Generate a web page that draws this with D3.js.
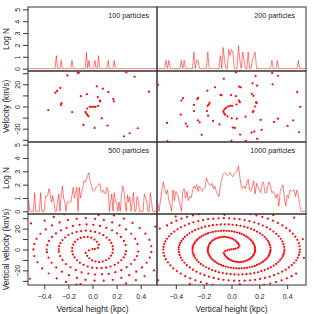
<!DOCTYPE html>
<html>
<head>
<meta charset="utf-8">
<script src="https://cdn.jsdelivr.net/npm/d3@7"></script>
<style>
  body { margin: 0; background: #fff; }
  text { font-family: "Liberation Sans", Arial, sans-serif; fill: #222; }
</style>
</head>
<body>
<div id="chart"></div>
<script>
// histogram bins: centres from -0.53 to 0.53 kpc, 0.01 wide
var binStart = -0.53, binWidth = 0.01, binCount = 107;

// log N per bin
var hist100 = [
  0,0,0,0,0,0,0,0,0,0,
  0,0,0,0,0,0,0,0,0,0,
  0,0,0,1.1,0,0,0,0.69,0,0,
  0,0,0,0,0,0,0.69,0,0,0,
  0,0,0,0,0,0,0,0,1.39,0,
  0.69,0,0,0,0,0.69,0,0,1.1,0,
  0,0,0,0,0,0,0.69,0,0,0,
  0,0.69,0,0,0,0,0,0,0,0,
  0,0,0,0,0,0,0,0,0,0,
  0,0,0,0,0,0,0,0,0,0,
  0,0,0,0,0,0,0
];
var hist200 = [
  0,0,0,0,0,0,0.69,0,0.69,0,
  0,0,0,0,0,0,0,0.69,0,0.69,
  0,0,0,0,0,0,1.39,0,0.69,0.69,
  0,0,0,0,0,0,1.39,0,0,0,
  0,0,0,0,0,1.1,0,1.79,0.69,0,
  0,1.61,1.1,1.61,1.39,0,0,0,1.95,0.69,
  0,1.39,0.69,0,0,1.39,0,0,0.69,1.1,
  1.39,0,0,0,0,0,0,0,0,0,
  0,0,0.69,0,0,0,0.69,0,0,0,
  0,0,0,0,0,0,0,0,0,0,
  0,0.69,0,0,0,0,0
];
var hist500 = [
  0.85,0,0,0,0,1.4,0,0,0,0,
  1.4,0,0,0,1.1,1.1,1.3,1.7,1.2,0.7,
  1.2,0.7,0,0,0.7,1.3,0,1.1,1.9,1.0,
  0.7,0,0.7,0.7,0.7,0.7,1.2,1.8,1.0,1.4,
  1.8,0,1.8,1.0,1.4,1.8,2.3,2.2,2.4,2.7,
  2.9,2.3,2.0,1.6,1.5,1.6,1.8,1.9,2.0,2.1,
  1.5,1.4,1.6,1.4,1.3,1.8,1.6,0,0.7,1.3,
  0,1.4,0.7,0.7,0,0.7,0,1.1,1.9,1.6,
  0.7,0,1.2,0.7,1.1,0,0.7,1.4,0,0,
  1.1,0.7,0,0,0,0,1.3,1.1,0.7,0,
  0,1.4,0.7,0,0,0,0
];
var hist1000 = [
  0.73,0,0.8,1.6,2.2,1.7,1.3,1.6,0.8,0.5,
  0,1.6,0.8,1.5,1.3,1.0,0.5,0,1.5,1.7,
  1.0,1.5,0.8,1.1,1.0,1.5,1.9,1.7,2.0,1.5,
  1.9,1.7,1.5,1.7,1.8,2.5,2.2,2.0,1.9,2.1,
  1.7,1.9,1.5,1.3,1.1,1.9,2.4,2.8,2.9,2.8,
  2.7,2.8,2.9,2.7,2.6,2.8,2.9,3.0,3.4,2.6,
  1.8,1.7,1.9,1.7,2.1,2.4,1.6,1.5,1.9,2.3,
  1.3,2.1,1.8,1.6,1.4,2.1,2.2,1.4,1.4,1.9,
  2.2,1.9,1.4,1.5,1.3,1.0,1.3,0.4,1.5,1.8,
  2.0,1.0,0.4,1.2,1.0,1.6,1.5,1.6,1.6,1.1,
  1.6,1.2,0.5,0,0,0,0
];

// particles: [vertical height (kpc), vertical velocity (km/s)]
var pts100 = [
  [-0.208,28.0],[-0.122,30.4],[-0.114,30.4],[0.281,30.7],[0.35,26.8],
  [0.036,18.2],[0.086,16.1],[0.131,13.1],[-0.267,16.7],[-0.294,14.0],
  [-0.308,12.5],[0.469,13.4],[-0.097,9.3],[-0.047,11.1],[0.044,8.4],
  [0.061,5.4],[0.064,4.5],[0.172,6.6],[0.177,4.5],[-0.258,3.0],
  [-0.261,1.25],[-0.367,-3.2],[-0.169,-5.0],[-0.022,-0.3],[-0.006,-0.3],
  [0.011,-0.3],[0.025,-0.3],[0.047,0.6],[-0.044,-1.8],[-0.058,-5.0],
  [-0.05,-6.5],[-0.042,-7.7],[-0.033,-8.9],[0.077,-10.7],[-0.075,-16.6],
  [0.017,-19.3],[0.125,-17.2],[0.375,-19.6],[0.308,-24.1],[0.261,-26.8]
];
var pts200 = [
  [0.031,30.7],[0.173,27.4],[0.292,30.1],[0.335,27.7],[-0.055,25.0],
  [-0.528,19.6],[-0.118,17.3],[-0.173,14.3],[0.055,17.9],[0.067,17.3],
  [0.151,20.9],[0.184,18.8],[0.295,20.0],[0.472,12.9],[-0.079,10.2],
  [-0.072,10.2],[-0.003,10.2],[0.031,9.3],[0.146,11.3],[0.158,9.6],
  [-0.240,7.8],[-0.245,6.6],[-0.348,7.5],[-0.360,5.4],[0.177,3.9],
  [0.180,3.0],[0.494,-0.3],[-0.269,1.5],[-0.158,3.3],[-0.163,1.8],
  [-0.171,0.6],[0.053,5.4],[0.060,3.9],[0.036,1.8],[0.004,0.6],
  [-0.010,0.6],[-0.024,0.0],[-0.039,-1.2],[-0.050,-2.3],[-0.058,-4.1],
  [-0.055,-5.9],[-0.046,-7.4],[-0.029,-8.9],[0.002,-10.7],[0.038,-11.0],
  [0.101,-9.2],[0.168,0.0],[0.158,-4.1],[0.153,-5.0],[-0.269,-4.1],
  [-0.176,-4.1],[-0.168,-8.3],[-0.132,-13.0],[-0.086,-16.1],[-0.240,-12.5],
  [-0.228,-14.3],[-0.365,-7.4],[-0.329,-15.4],[-0.317,-17.9],[-0.463,-14.8],
  [-0.214,-25.5],[0.009,-19.0],[0.024,-19.3],[0.062,-25.3],[0.144,-23.5],
  [0.163,-22.6],[0.184,-29.1],[0.216,-21.1],[0.209,-12.1],[0.306,-13.9],
  [0.333,-11.0],[0.403,-17.5],[0.443,-12.5],[0.484,-23.2],[-0.460,-31.3],
  [0.0,-30.9],[0.103,-30.9]
];
var pts500 = [
  // arm winding out from the centre to the left / down
  [0.0,0.3],[-0.03,-0.8],
  [-0.056,-3.2],[-0.045,-6.1],[-0.026,-8.4],[-0.003,-10.5],[0.025,-11.5],[0.055,-12.1],
  [0.085,-11.5],[0.113,-10.3],[0.136,-8.6],[0.155,-5.9],[0.166,-3.2],[0.170,0.1],
  [0.167,3.2],[0.156,6.3],[0.140,9.1],[0.117,11.5],[0.090,13.7],[0.058,15.5],
  [0.022,16.8],[-0.016,17.6],[-0.055,18.1],[-0.094,17.6],[-0.132,16.8],[-0.168,15.5],
  [-0.200,13.9],[-0.227,11.5],[-0.250,9.1],[-0.266,6.1],[-0.277,3.2],[-0.280,0.1],
  [-0.279,-2.2],[-0.269,-6.3],[-0.249,-10.0],[-0.220,-13.9],[-0.183,-17.1],[-0.139,-19.6],
  [-0.090,-21.9],[-0.035,-23.1],[0.021,-24.0],[0.079,-23.8],[0.135,-23.3],[0.190,-21.7],
  [0.239,-19.8],[0.283,-16.9],[0.320,-13.9],[0.349,-10.0],[0.369,-6.3],[0.379,-2.0],
  [0.373,5.3],[0.354,10.2],[0.322,15.1],[0.278,19.2],[0.225,23.1],[0.163,25.9],
  [0.094,28.3],[0.021,29.4],[-0.055,30.1],[-0.131,29.4],[-0.204,28.3],[-0.273,25.9],
  [-0.335,23.1],[-0.388,19.2],[-0.432,15.1],[-0.464,10.2],[-0.483,5.3],[-0.490,0.1],
  [-0.482,-6.3],[-0.457,-12.2],[-0.418,-18.1],[-0.364,-23.0],[-0.297,-27.7],[-0.220,-31.1],
  [-0.135,-33.7],[0.278,-32.5],[0.360,-29.4],[0.432,-25.6],
  // arm winding out from the centre to the right / up
  [0.02,0.5],[0.045,1.5],
  [0.052,4.6],[0.037,7.4],[0.016,9.5],[-0.010,11.2],[-0.040,12.0],[-0.070,11.9],
  [-0.098,11.1],[-0.124,9.6],[-0.145,7.3],[-0.160,4.7],[-0.168,1.5],
  [-0.169,-1.6],[-0.162,-4.7],[-0.149,-7.6],[-0.129,-10.3],[-0.104,-12.7],[-0.074,-14.7],
  [-0.040,-16.3],[-0.003,-17.4],[0.035,-17.9],[0.075,-17.9],[0.113,-17.4],[0.150,-16.3],
  [0.184,-14.7],[0.214,-12.7],[0.239,-10.3],[0.259,-7.6],[0.272,-4.7],[0.279,-1.6],
  [0.275,4.2],[0.260,8.2],[0.236,12.0],[0.203,15.4],[0.162,18.4],[0.115,20.8],
  [0.063,22.6],[0.007,23.6],[-0.050,24.0],[-0.107,23.6],[-0.163,22.6],[-0.215,20.8],
  [-0.262,18.4],[-0.303,15.4],[-0.336,12.0],[-0.360,8.2],[-0.375,4.2],[-0.380,0.0],
  [-0.378,-2.6],[-0.365,-7.8],[-0.339,-12.7],[-0.301,-17.2],[-0.253,-21.2],[-0.195,-24.6],
  [-0.129,-27.2],[-0.058,-29.0],[0.017,-29.9],[0.093,-29.9],[0.168,-29.0],[0.239,-27.2],
  [0.305,-24.6],[0.363,-21.2],[0.411,-17.2],[0.449,-12.7],[0.475,-7.8],[0.488,-2.6],
  [0.488,3.1],[0.472,9.3],[0.439,15.2],[0.392,20.6],[0.332,25.5],[0.260,29.5],
  [0.178,32.6],[-0.235,33.8],[-0.320,31.2],[-0.397,27.6],
  // stray particles
  [-0.52,-28.0],[0.51,-20.0],[-0.51,25.0],[0.05,33.0],[-0.10,-33.2],[0.52,22.0]
];
var pts1000 = [
  // arm winding out from the centre to the left / down
  [0.0,0.2],[-0.015,-0.2],[-0.03,-0.7],[-0.045,-1.5],
  [-0.056,-3.1],[-0.051,-4.6],[-0.045,-6.0],[-0.036,-7.3],[-0.026,-8.5],[-0.015,-9.5],
  [-0.003,-10.4],[0.011,-11.1],[0.025,-11.6],[0.040,-11.9],[0.055,-12.0],[0.070,-11.9],
  [0.085,-11.6],[0.099,-11.1],[0.113,-10.4],[0.125,-9.5],[0.136,-8.5],[0.146,-7.3],
  [0.155,-6.0],[0.161,-4.6],[0.166,-3.1],[0.169,-1.6],[0.170,0.0],
  [0.169,1.6],[0.167,3.1],[0.162,4.7],[0.156,6.2],[0.149,7.6],[0.140,9.0],
  [0.129,10.3],[0.117,11.6],[0.104,12.7],[0.090,13.8],[0.074,14.7],[0.058,15.6],
  [0.040,16.3],[0.022,16.9],[0.003,17.4],[-0.016,17.7],[-0.035,17.9],[-0.055,18.0],
  [-0.075,17.9],[-0.094,17.7],[-0.113,17.4],[-0.132,16.9],[-0.150,16.3],[-0.168,15.6],
  [-0.184,14.7],[-0.200,13.8],[-0.214,12.7],[-0.227,11.6],[-0.239,10.3],[-0.250,9.0],
  [-0.259,7.6],[-0.266,6.2],[-0.272,4.7],[-0.277,3.1],[-0.279,1.6],[-0.280,0.0],
  [-0.279,-2.1],[-0.275,-4.2],[-0.269,-6.2],[-0.260,-8.2],[-0.249,-10.1],[-0.236,-12.0],
  [-0.220,-13.8],[-0.203,-15.4],[-0.183,-17.0],[-0.162,-18.4],[-0.139,-19.7],[-0.115,-20.8],
  [-0.090,-21.8],[-0.063,-22.6],[-0.035,-23.2],[-0.007,-23.6],[0.021,-23.9],[0.050,-24.0],
  [0.079,-23.9],[0.107,-23.6],[0.135,-23.2],[0.163,-22.6],[0.190,-21.8],[0.215,-20.8],
  [0.239,-19.7],[0.262,-18.4],[0.283,-17.0],[0.303,-15.4],[0.320,-13.8],[0.336,-12.0],
  [0.349,-10.1],[0.360,-8.2],[0.369,-6.2],[0.375,-4.2],[0.379,-2.1],[0.380,0.0],
  [0.378,2.6],[0.373,5.2],[0.365,7.8],[0.354,10.3],[0.339,12.7],[0.322,15.0],
  [0.301,17.2],[0.278,19.3],[0.253,21.2],[0.225,23.0],[0.195,24.6],[0.163,26.0],
  [0.129,27.2],[0.094,28.2],[0.058,29.0],[0.021,29.5],[-0.017,29.9],[-0.055,30.0],
  [-0.093,29.9],[-0.131,29.5],[-0.168,29.0],[-0.204,28.2],[-0.239,27.2],[-0.273,26.0],
  [-0.305,24.6],[-0.335,23.0],[-0.363,21.2],[-0.388,19.3],[-0.411,17.2],[-0.432,15.0],
  [-0.449,12.7],[-0.464,10.3],[-0.475,7.8],[-0.483,5.2],[-0.488,2.6],[-0.490,0.0],
  [-0.488,-3.1],[-0.482,-6.2],[-0.472,-9.3],[-0.457,-12.3],[-0.439,-15.2],[-0.418,-18.0],
  [-0.392,-20.6],[-0.364,-23.1],[-0.332,-25.5],[-0.297,-27.6],[-0.260,-29.5],[-0.220,-31.2],
  [-0.178,-32.6],[-0.135,-33.8],[0.235,-33.8],[0.278,-32.6],[0.320,-31.2],[0.360,-29.5],
  [0.397,-27.6],[0.432,-25.5],[0.464,-23.1],
  // arm winding out from the centre to the right / up
  [0.015,0.3],[0.03,0.8],[0.046,1.6],
  [0.057,3.0],[0.052,4.7],[0.046,6.1],[0.037,7.4],[0.027,8.6],[0.016,9.6],
  [0.004,10.5],[-0.010,11.2],[-0.024,11.7],[-0.040,12.0],[-0.055,12.1],[-0.070,12.0],
  [-0.084,11.7],[-0.098,11.2],[-0.112,10.5],[-0.124,9.6],[-0.136,8.6],[-0.145,7.4],
  [-0.154,6.1],[-0.160,4.7],[-0.165,3.1],[-0.168,1.6],[-0.170,0.1],
  [-0.170,-1.5],[-0.168,-3.0],[-0.163,-4.6],[-0.157,-6.1],[-0.150,-7.6],[-0.141,-9.1],
  [-0.130,-10.4],[-0.118,-11.7],[-0.105,-12.8],[-0.091,-13.9],[-0.075,-14.8],[-0.059,-15.7],
  [-0.041,-16.4],[-0.023,-17.0],[-0.004,-17.5],[0.015,-17.8],[0.034,-18.0],[0.054,-18.1],
  [0.074,-18.0],[0.093,-17.8],[0.112,-17.5],[0.131,-17.0],[0.149,-16.4],[0.167,-15.7],
  [0.183,-14.8],[0.199,-13.9],[0.213,-12.8],[0.226,-11.7],[0.238,-10.4],[0.249,-9.1],
  [0.258,-7.7],[0.266,-6.2],[0.272,-4.7],[0.276,-3.1],[0.279,-1.6],[0.281,0.0],
  [0.280,2.1],[0.276,4.2],[0.270,6.3],[0.261,8.3],[0.250,10.2],[0.237,12.1],
  [0.221,13.9],[0.204,15.5],[0.184,17.1],[0.163,18.5],[0.140,19.8],[0.116,20.9],
  [0.091,21.9],[0.064,22.7],[0.036,23.3],[0.008,23.7],[-0.020,24.0],[-0.049,24.1],
  [-0.078,24.0],[-0.106,23.7],[-0.134,23.3],[-0.162,22.7],[-0.189,21.9],[-0.214,20.9],
  [-0.238,19.8],[-0.261,18.5],[-0.282,17.1],[-0.302,15.5],[-0.319,13.9],[-0.335,12.1],
  [-0.348,10.2],[-0.359,8.3],[-0.368,6.3],[-0.374,4.2],[-0.378,2.1],[-0.379,0.0],
  [-0.377,-2.6],[-0.372,-5.2],[-0.364,-7.8],[-0.353,-10.3],[-0.338,-12.7],[-0.321,-15.0],
  [-0.300,-17.2],[-0.277,-19.3],[-0.252,-21.2],[-0.224,-23.0],[-0.194,-24.6],[-0.162,-26.0],
  [-0.128,-27.2],[-0.093,-28.2],[-0.057,-29.0],[-0.020,-29.5],[0.018,-29.9],[0.056,-30.0],
  [0.094,-29.9],[0.132,-29.5],[0.169,-29.0],[0.205,-28.2],[0.240,-27.2],[0.274,-26.0],
  [0.306,-24.6],[0.336,-23.0],[0.364,-21.2],[0.389,-19.3],[0.412,-17.2],[0.433,-15.0],
  [0.450,-12.7],[0.465,-10.3],[0.476,-7.8],[0.484,-5.2],[0.489,-2.6],[0.491,0.0],
  [0.489,3.1],[0.483,6.2],[0.473,9.3],[0.458,12.3],[0.440,15.2],[0.419,18.0],
  [0.393,20.6],[0.365,23.1],[0.333,25.5],[0.298,27.6],[0.261,29.5],[0.221,31.2],
  [0.179,32.6],[0.136,33.8],[-0.234,33.8],[-0.277,32.6],[-0.319,31.2],[-0.359,29.5],
  [-0.396,27.6],[-0.431,25.5],[-0.463,23.1],
  // stray particles
  [-0.528,-29.5],[-0.515,20.0],[0.512,10.0],[-0.40,31.5],[0.45,30.5],
  [0.06,-33.4],[-0.05,33.2],[0.30,33.0],[-0.30,-33.0],[0.52,-8.0]
];

var panelLabels = ["100 particles", "200 particles", "500 particles", "1000 particles"];
var logTicks = [0, 1, 2, 3, 4, 5];
var velTicks = [-30, -20, -10, 0, 10, 20, 30];
var velTickLabels = [-20, 0, 20];
var zTicks = [-0.4, -0.2, 0.0, 0.2, 0.4];

var binCenters = d3.range(binCount).map(function(i) { return binStart + binWidth * i; });

var svg = d3.select("#chart").append("svg")
    .attr("width", 314)
    .attr("height", 314);

// layout of the 2x2 grid (each cell = log N strip + phase space strip)
var colX   = [[28, 157], [157, 306]];
var rowLog = [[71, 7], [214, 142]];
var rowVel = [[142, 71], [285, 214]];
var velDomain = [[-32, 32], [-34, 34]];

var panels = [
  {hist: hist100,  pts: pts100,  col: 0, row: 0, label: panelLabels[0]},
  {hist: hist200,  pts: pts200,  col: 1, row: 0, label: panelLabels[1]},
  {hist: hist500,  pts: pts500,  col: 0, row: 1, label: panelLabels[2]},
  {hist: hist1000, pts: pts1000, col: 1, row: 1, label: panelLabels[3]}
];

panels.forEach(function(p, k) {
    var x = d3.scaleLinear().domain([-0.535, 0.535]).range(colX[p.col]);
    var yL = d3.scaleLinear().domain([-0.2, 5.2]).range(rowLog[p.row]);
    var yV = d3.scaleLinear().domain(velDomain[p.row]).range(rowVel[p.row]);

    var x0 = colX[p.col][0], x1 = colX[p.col][1];

    svg.append("clipPath").attr("id", "clipL" + k)
      .append("rect")
        .attr("x", x0).attr("y", rowLog[p.row][1])
        .attr("width", x1 - x0).attr("height", rowLog[p.row][0] - rowLog[p.row][1]);
    svg.append("clipPath").attr("id", "clipV" + k)
      .append("rect")
        .attr("x", x0).attr("y", rowVel[p.row][1])
        .attr("width", x1 - x0).attr("height", rowVel[p.row][0] - rowVel[p.row][1]);

    // log N histogram
    var line = d3.line()
        .x(function(d, i) { return x(binCenters[i]); })
        .y(function(d) { return yL(d); });

    svg.append("path")
        .datum(p.hist)
        .attr("clip-path", "url(#clipL" + k + ")")
        .attr("d", line)
        .attr("fill", "none")
        .attr("stroke", "#ff0000")
        .attr("stroke-opacity", 0.65)
        .attr("stroke-width", 0.8);

    // phase space points
    svg.append("g")
        .attr("clip-path", "url(#clipV" + k + ")")
      .selectAll("circle")
        .data(p.pts)
      .enter().append("circle")
        .attr("cx", function(d) { return x(d[0]); })
        .attr("cy", function(d) { return yV(d[1]); })
        .attr("r", 1.1)
        .attr("fill", "#ff0000");

    // frames
    svg.append("rect")
        .attr("x", x0).attr("y", rowLog[p.row][1])
        .attr("width", x1 - x0).attr("height", rowLog[p.row][0] - rowLog[p.row][1])
        .attr("fill", "none").attr("stroke", "#333").attr("stroke-width", 1);
    svg.append("rect")
        .attr("x", x0).attr("y", rowVel[p.row][1])
        .attr("width", x1 - x0).attr("height", rowVel[p.row][0] - rowVel[p.row][1])
        .attr("fill", "none").attr("stroke", "#333").attr("stroke-width", 1);

    svg.append("text")
        .attr("x", x1 - (p.col === 0 ? 8 : 11))
        .attr("y", rowLog[p.row][1] + 8)
        .attr("text-anchor", "end")
        .attr("dominant-baseline", "central")
        .style("font-size", "7.2px")
        .text(p.label);

    // y axes on the left column only
    if (p.col === 0) {
        var gl = svg.append("g")
            .attr("transform", "translate(" + x0 + ",0)")
            .call(d3.axisLeft(yL).tickValues(logTicks).tickSize(5).tickFormat(d3.format("d")));
        var gv = svg.append("g")
            .attr("transform", "translate(" + x0 + ",0)")
            .call(d3.axisLeft(yV).tickValues(velTicks).tickSize(5)
                .tickFormat(function(d) { return velTickLabels.indexOf(d) >= 0 ? d3.format("d")(d) : ""; }));
        [gl, gv].forEach(function(g) {
            g.select(".domain").remove();
            g.selectAll(".tick line").attr("stroke", "#333");
            g.selectAll(".tick text")
                .attr("x", null).attr("dy", null)
                .attr("transform", "translate(-11,0) rotate(-90)")
                .attr("text-anchor", "middle")
                .attr("dominant-baseline", "central")
                .style("font-size", "7px")
                .style("font-family", "Liberation Sans, Arial, sans-serif")
                .attr("fill", "#222");
        });

        svg.append("text")
            .attr("transform", "translate(6," + ((rowLog[p.row][0] + rowLog[p.row][1]) / 2) + ") rotate(-90)")
            .attr("text-anchor", "middle")
            .attr("dominant-baseline", "central")
            .style("font-size", "8.2px")
            .text("Log N");
        svg.append("text")
            .attr("transform", "translate(6," + ((rowVel[p.row][0] + rowVel[p.row][1]) / 2) + ") rotate(-90)")
            .attr("text-anchor", "middle")
            .attr("dominant-baseline", "central")
            .style("font-size", "8.2px")
            .text(p.row === 0 ? "Velocity (km/s)" : "Vertical velocity (km/s)");
    }

    // x axes on the bottom row
    if (p.row === 1) {
        var gx = svg.append("g")
            .attr("transform", "translate(0," + rowVel[1][0] + ")")
            .call(d3.axisBottom(x).tickValues(zTicks).tickSize(4).tickFormat(d3.format(".1f")));
        gx.select(".domain").remove();
        gx.selectAll(".tick line").attr("stroke", "#333");
        gx.selectAll(".tick text")
            .attr("y", 11).attr("dy", null)
            .attr("dominant-baseline", "central")
            .style("font-size", "7px")
            .style("font-family", "Liberation Sans, Arial, sans-serif")
            .attr("fill", "#222");

        svg.append("text")
            .attr("x", (x0 + x1) / 2)
            .attr("y", 309)
            .attr("text-anchor", "middle")
            .attr("dominant-baseline", "central")
            .style("font-size", "8.2px")
            .text("Vertical height (kpc)");
    }
});
</script>
</body>
</html>
